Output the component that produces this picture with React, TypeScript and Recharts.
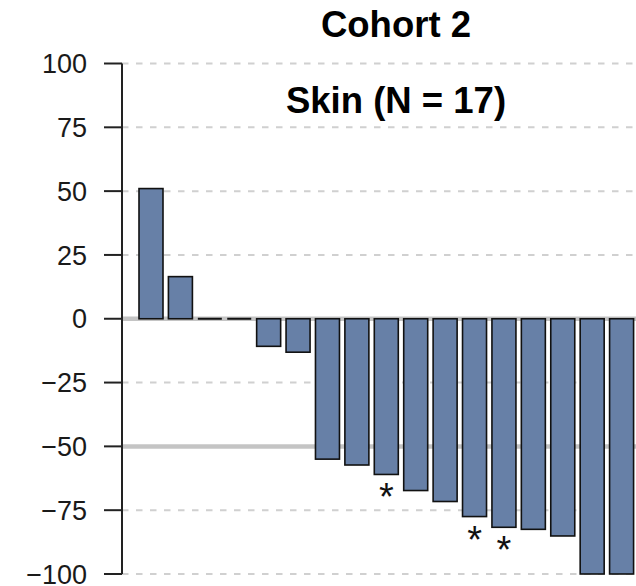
import React from 'react';
import { BarChart, Bar, XAxis, YAxis, CartesianGrid, LabelList } from 'recharts';

const patients = ['P1','P2','P3','P4','P5','P6','P7','P8','P9','P10','P11','P12','P13','P14','P15','P16','P17'];
const bestChange = [51, 16.5, 0, 0, -10.8, -13.1, -55, -57.3, -61, -67.3, -71.6, -77.5, -81.7, -82.5, -85.1, -100, -100];
const markers = ['', '', '', '', '', '', '', '', '*', '', '', '*', '*', '', '', '', ''];
const yTicks = [-100, -75, -50, -25, 0, 25, 50, 75, 100];
const dashedLines = [100, 75, 50, 25, -25, -75, -100];
const solidLines = [0, -50];
const title = 'Cohort 2';
const subtitle = 'Skin (N = 17)';

const data = patients.map((id, i) => ({ id, change: bestChange[i], mark: markers[i] }));

const FONT = '"Liberation Sans", Arial, Helvetica, sans-serif';

const BarShape = (props: any) => {
  const { x, y, width, height, fill } = props;
  if (x == null || y == null) return null;
  const h = Math.abs(height || 0);
  const top = height < 0 ? y + height : y;
  if (h < 0.5) {
    return <line x1={x} x2={x + width} y1={y} y2={y} stroke="#111" strokeWidth={2} />;
  }
  return <rect x={x} y={top} width={width} height={h} fill={fill} stroke="#111" strokeWidth={1.6} />;
};

const StarLabel = (props: any) => {
  const { x, y, width, height, value } = props;
  if (!value) return null;
  const bottom = Math.max(y, y + height);
  return (
    <text x={x + width / 2} y={bottom + 36} textAnchor="middle" fontSize={38} fontFamily={FONT} fill="#111">
      {value}
    </text>
  );
};

const fmt = (v: number) => String(v).replace('-', '\u2212');

export default function App() {
  return (
    <div style={{ position: 'absolute', left: 0, top: 0, width: 636, height: 586, background: '#fff', fontFamily: FONT }}>
      <BarChart
        width={636}
        height={586}
        data={data}
        margin={{ top: 63.5, right: 0, bottom: 12, left: 0 }}
      >
        <CartesianGrid
          vertical={false}
          horizontalValues={dashedLines}
          stroke="#d0d0d0"
          strokeWidth={2}
          strokeDasharray="6.5 7.5"
        />
        <CartesianGrid
          vertical={false}
          horizontalValues={solidLines}
          stroke="#c4c4c4"
          strokeWidth={4.5}
        />
        <XAxis dataKey="id" type="category" hide padding={{ left: 14, right: 0 }} />
        <YAxis
          type="number"
          domain={[-100, 100]}
          ticks={yTicks}
          interval={0}
          width={122}
          tickSize={18}
          tickMargin={17}
          tickFormatter={fmt}
          axisLine={{ stroke: '#222', strokeWidth: 2 }}
          tickLine={{ stroke: '#222', strokeWidth: 2 }}
          tick={{ fill: '#1a1a1a', fontSize: 27, fontFamily: FONT }}
        />
        <Bar dataKey="change" fill="#6780a7" barSize={24} isAnimationActive={false} shape={<BarShape />}>
          <LabelList dataKey="mark" content={<StarLabel />} />
        </Bar>
      </BarChart>
      <div style={{ position: 'absolute', left: 196, width: 400, top: 7, textAlign: 'center', fontSize: 36.5, lineHeight: '35px', fontWeight: 'bold', color: '#000' }}>
        {title}
      </div>
      <div style={{ position: 'absolute', left: 196, width: 400, top: 83, textAlign: 'center', fontSize: 36.5, lineHeight: '35px', fontWeight: 'bold', color: '#000' }}>
        {subtitle}
      </div>
    </div>
  );
}
